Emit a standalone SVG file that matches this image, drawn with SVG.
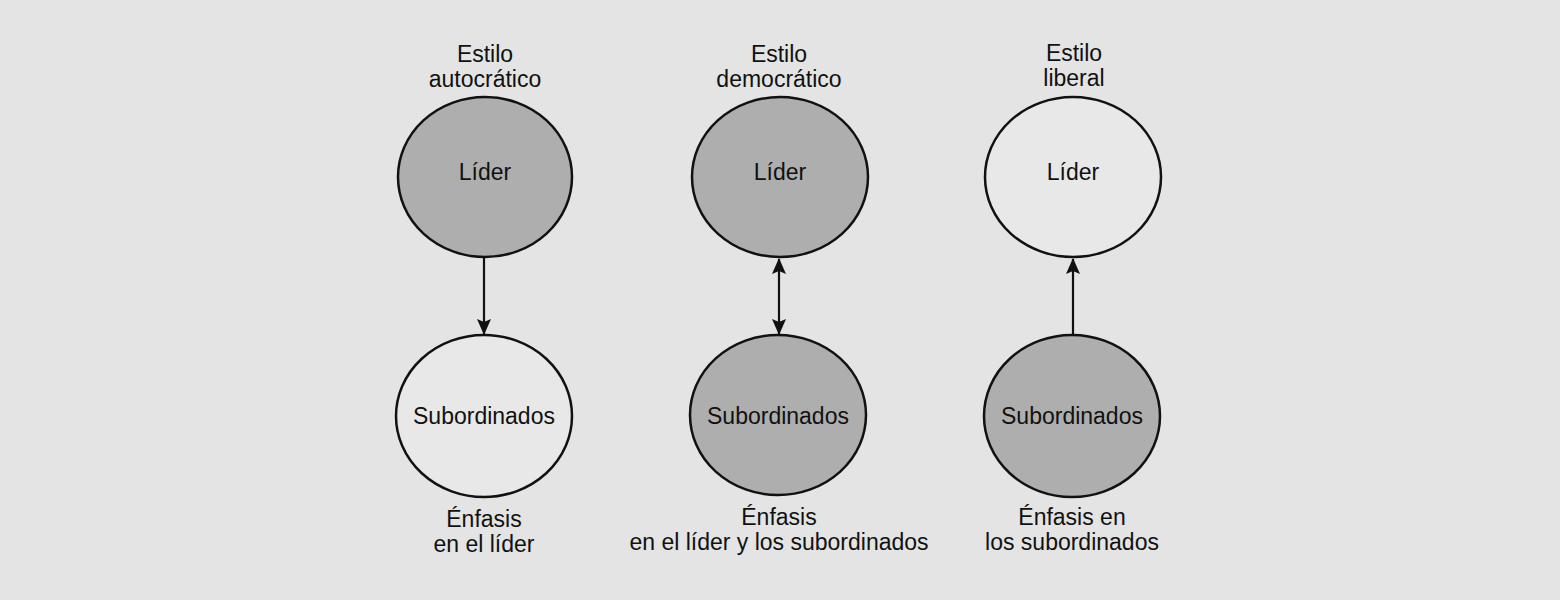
<svg xmlns="http://www.w3.org/2000/svg" width="1560" height="600" viewBox="0 0 1560 600">
  <style>
    .bg { fill: #e4e4e4; }
    .node { stroke: #111; stroke-width: 2.5; }
    .dark { fill: #aeaeae; }
    .light { fill: #e8e8e8; }
    .t { font-family: "Liberation Sans", Arial, Helvetica, sans-serif; font-size: 23px; fill: #111; text-anchor: middle; }
    .conn { stroke: #111; stroke-width: 2.2; fill: none; }
  </style>
  <defs>
    <marker id="arr" viewBox="0 0 16 16" refX="15" refY="8" markerWidth="16" markerHeight="16" markerUnits="userSpaceOnUse" orient="auto-start-reverse">
      <path d="M0,1 L16,8 L0,15 L3,8 Z" fill="#111"/>
    </marker>
  </defs>
  <rect class="bg" x="0" y="0" width="1560" height="600"/>

  <g id="labels-top">
    <text class="t" x="485" y="62">Estilo</text>
    <text class="t" x="485" y="87">autocrático</text>
    <text class="t" x="779" y="62">Estilo</text>
    <text class="t" x="779" y="87">democrático</text>
    <text class="t" x="1074" y="61">Estilo</text>
    <text class="t" x="1074" y="86">liberal</text>
  </g>

  <g id="connectors">
    <line class="conn" x1="484" y1="258" x2="484" y2="334" marker-end="url(#arr)"/>
    <line class="conn" x1="779" y1="259" x2="779" y2="334" marker-start="url(#arr)" marker-end="url(#arr)"/>
    <line class="conn" x1="1073" y1="335" x2="1073" y2="259" marker-end="url(#arr)"/>
  </g>

  <g id="auto-lider">
    <ellipse class="node dark" cx="485" cy="177" rx="87" ry="80"/>
    <text class="t" x="485" y="180">Líder</text>
  </g>
  <g id="auto-sub">
    <ellipse class="node light" cx="484" cy="416" rx="88" ry="81"/>
    <text class="t" x="484" y="424">Subordinados</text>
  </g>
  <g id="demo-lider">
    <ellipse class="node dark" cx="780" cy="177" rx="88" ry="80"/>
    <text class="t" x="780" y="180">Líder</text>
  </g>
  <g id="demo-sub">
    <ellipse class="node dark" cx="778" cy="415" rx="88" ry="80"/>
    <text class="t" x="778" y="424">Subordinados</text>
  </g>
  <g id="lib-lider">
    <ellipse class="node light" cx="1073" cy="177" rx="88" ry="80"/>
    <text class="t" x="1073" y="180">Líder</text>
  </g>
  <g id="lib-sub">
    <ellipse class="node dark" cx="1072" cy="416" rx="88" ry="81"/>
    <text class="t" x="1072" y="424">Subordinados</text>
  </g>

  <g id="labels-bottom">
    <text class="t" x="484" y="527">Énfasis</text>
    <text class="t" x="484" y="552">en el líder</text>
    <text class="t" x="779" y="525">Énfasis</text>
    <text class="t" x="779" y="550">en el líder y los subordinados</text>
    <text class="t" x="1072" y="525">Énfasis en</text>
    <text class="t" x="1072" y="550">los subordinados</text>
  </g>
</svg>
